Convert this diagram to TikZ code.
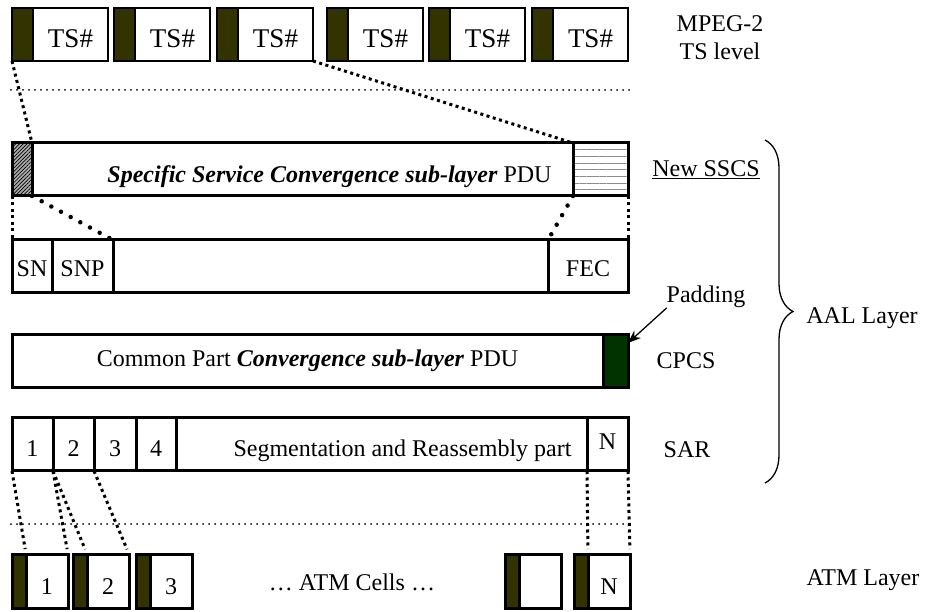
\documentclass[tikz,border=0pt]{standalone}
\usepackage{fontspec}
\setmainfont{Liberation Serif}
\usetikzlibrary{positioning,calc,arrows.meta,patterns.meta,decorations.pathreplacing}
\definecolor{hdrolive}{RGB}{51,51,0}
\definecolor{padgreen}{RGB}{0,51,0}

\begin{document}
\begin{tikzpicture}[x=1pt, y=-1pt, >=Stealth, font=\fontsize{24}{28}\selectfont,
  every node/.style={inner sep=0pt, outer sep=0pt},
  basedrop/.style={text height=#1, text depth=0pt},
  tshdr/.style={draw, line width=1.2pt, fill=hdrolive, minimum width=21pt, minimum height=53pt, anchor=north west},
  tsbox/.style={draw, line width=1.2pt, minimum width=75pt, minimum height=53pt, basedrop=27pt,
                font=\fontsize{27}{30}\selectfont},
  seg/.style={draw, line width=3pt, minimum height=53pt},
  cellhdr/.style={draw, line width=3pt, fill=hdrolive, minimum width=14pt, minimum height=54pt, anchor=north west},
  cellbox/.style={draw, line width=3pt, minimum width=42pt, minimum height=54pt, basedrop=26pt},
  sqdots/.style={line width=3pt, dash pattern=on 3pt off 3.5pt},
  rnddots/.style={line width=4.5pt, line cap=round, dash pattern=on 0pt off 11pt},
  sepline/.style={line width=2pt, line cap=round, dash pattern=on 0pt off 6pt}]
  \useasboundingbox (0,0) rectangle (930,612);

  % MPEG-2 TS packets
  \foreach \n/\x in {1/12,2/114,3/217,4/327,5/429,6/532}{
    \node[tshdr] (h\n) at (\x,8) {};
    \node[tsbox, right=0pt of h\n] (ts\n) {TS\#};
  }
  \draw[sepline] (11,90) -- (629,90);

  % SSCS PDU
  \node[seg, minimum width=20pt, anchor=north west, preaction={fill=gray!65},
        pattern={Lines[angle=45,distance=2.6pt,line width=0.7pt]}, pattern color=black] (sschd) at (12,143) {};
  \node[seg, minimum width=541pt, right=0pt of sschd, basedrop=27pt] (sscs)
    {\hspace*{54pt}\textbf{\textit{Specific Service Convergence sub-layer}} PDU};
  \node[seg, minimum width=55pt, right=0pt of sscs,
        pattern={Lines[angle=0,distance=6.7pt,line width=1pt]}, pattern color=gray!90] (ssctl) {};

  % SN / SNP / FEC
  \node[seg, minimum width=40pt, anchor=north west, basedrop=21pt] (sn) at (12,240) {SN};
  \node[seg, minimum width=61pt, right=0pt of sn, basedrop=21pt] (snp) {SNP};
  \node[seg, minimum width=435pt, right=0pt of snp] (snbody) {};
  \node[seg, minimum width=80pt, right=0pt of snbody, basedrop=21pt] (fec) {FEC};

  \draw[sqdots] (h1.south west) -- (sschd.north east);
  \draw[sqdots] (ts3.south east) -- (ssctl.north west);
  \draw[sqdots] (sschd.south west) -- (sn.north west);
  \draw[rnddots] (sschd.south east) -- (snp.north east);
  \draw[rnddots] (ssctl.south west) -- (fec.north west);
  \draw[sqdots] (ssctl.south east) -- (fec.north east);

  % CPCS PDU
  \node[seg, minimum width=591pt, anchor=north west, basedrop=10pt] (cpcs) at (12,335)
    {Common Part \textbf{\textit{Convergence sub-layer}} PDU};
  \node[seg, fill=padgreen, minimum width=25pt, right=0pt of cpcs] (pad) {};

  % SAR
  \node[seg, minimum width=41pt, anchor=north west, basedrop=24pt] (sar1) at (12,418) {1};
  \foreach \n/\p/\w in {2/1/41,3/2/42,4/3/40}
    \node[seg, minimum width=\w pt, right=0pt of sar\p, basedrop=24pt] (sar\n) {\n};
  \node[seg, minimum width=411pt, right=0pt of sar4, basedrop=24pt] (sarbody)
    {\hspace*{42pt}Segmentation and Reassembly part};
  \node[seg, minimum width=41pt, right=0pt of sarbody, basedrop=10pt] (sarN) {N};

  % ATM cells
  \draw[sepline] (11,524) -- (630,524);
  \foreach \n/\x/\t in {1/12/1,2/73/2,3/136/3,4/505/{},N/574/N}{
    \node[cellhdr] (ch\n) at (\x,554) {};
    \node[cellbox, right=0pt of ch\n] (cell\n) {\t};
  }
  \node (cellsdots) at (352,582) {\dots\ ATM Cells \dots};

  \draw[sqdots, shorten >=5pt] (sar1.south west) -- (cell1.north west);
  \draw[sqdots, shorten >=5pt] (sar1.south east) -- (cell1.north east);
  \draw[sqdots, shorten >=5pt] (sar2.south west) -- (cell2.north west);
  \draw[sqdots, shorten >=5pt] (sar2.south east) -- (cell2.north east);
  \draw[sqdots, shorten >=5pt] (sarN.south west) -- (cellN.north west);
  \draw[sqdots, shorten >=5pt] (sarN.south east) -- (cellN.north east);

  % layer labels
  \node[align=center] (mpeg) at (720,38) {MPEG-2\\TS level};
  \node (newsscs) at (706,170) {\underline{New SSCS}};
  \node (padlbl) at (706,297) {Padding};
  \node (cpcslbl) at (686,361) {CPCS};
  \node (sarlbl) at (687,450) {SAR};
  \node (aal) at (862,318) {AAL Layer};
  \node (atmlbl) at (863,580) {ATM Layer};
  \draw[-{Stealth[length=13pt,width=10pt]}, line width=1.3pt] (padlbl.south west)
    -- ($(pad.north east)!0.15!(pad.south east)$);

  \coordinate (bracetop) at (765,140);
  \coordinate (bracebot) at (765,483);
  \draw[decorate, decoration={brace, amplitude=28pt}, line width=1.3pt] (bracetop) -- (bracebot);
\end{tikzpicture}
\end{document}
